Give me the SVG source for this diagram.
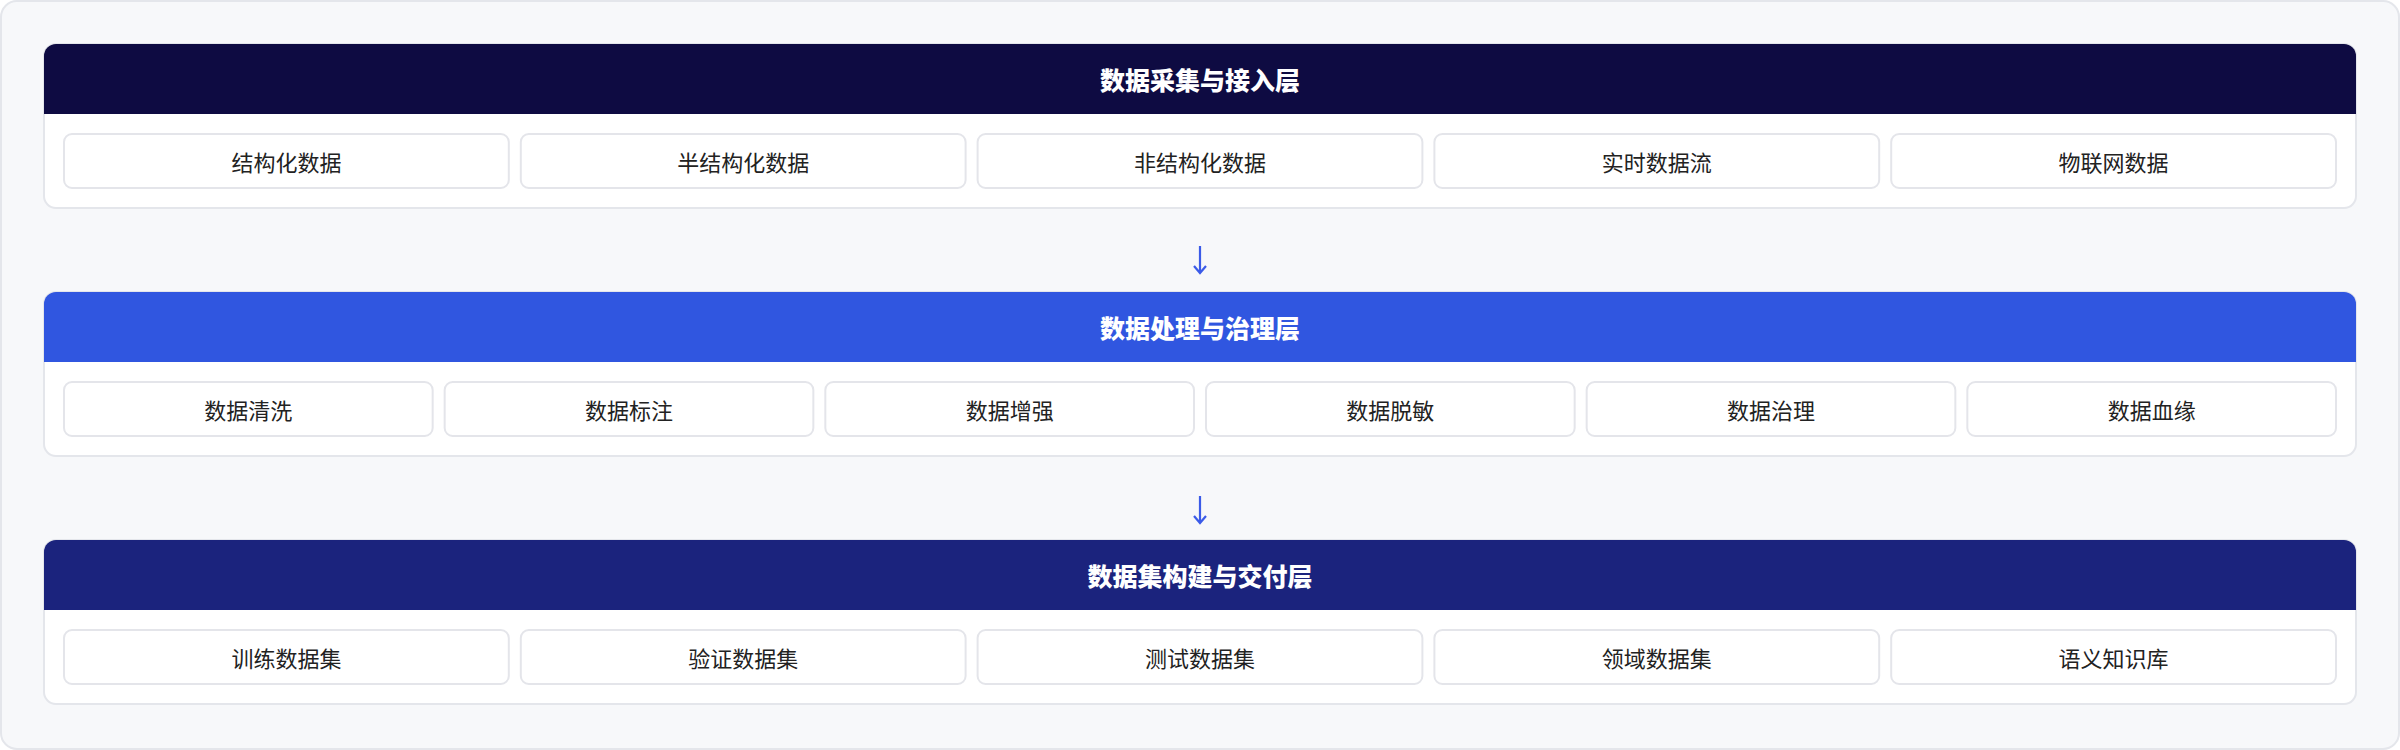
<svg xmlns="http://www.w3.org/2000/svg" width="2400" height="750" viewBox="0 0 2400 750">
  <defs>
    <style>
      .frame { fill: #f7f8fa; stroke: #e4e6eb; stroke-width: 2; }
      .card { fill: #ffffff; stroke: #e4e6eb; stroke-width: 2; }
      .item { fill: #ffffff; stroke: #e4e5ea; stroke-width: 2; }
      .title { font-family: "Noto Sans CJK SC", "Noto Sans", sans-serif; font-size: 25px; font-weight: 900; fill: #ffffff; text-anchor: middle; dominant-baseline: central; }
      .label { font-family: "Noto Sans CJK SC", "Noto Sans", sans-serif; font-size: 22px; font-weight: 400; fill: #222222; text-anchor: middle; dominant-baseline: central; }
      .arrow { stroke: #3b5be8; stroke-width: 2.2; fill: none; }
    </style>
  </defs>

  <rect class="frame" x="1" y="1" width="2398" height="748" rx="16" ry="16"/>

  <g id="layer-ingest">
    <rect class="card" x="44" y="44" width="2312" height="164" rx="12" ry="12"/>
    <path d="M44,114 V56 A12,12 0 0 1 56,44 H2344 A12,12 0 0 1 2356,56 V114 Z" fill="#0e0b42"/>
    <text class="title" x="1200" y="79">数据采集与接入层</text>
    <g id="ingest-structured"><rect class="item" x="64" y="134" width="444.8" height="54" rx="8"/><text class="label" x="286.4" y="161">结构化数据</text></g>
    <g id="ingest-semi"><rect class="item" x="520.8" y="134" width="444.8" height="54" rx="8"/><text class="label" x="743.2" y="161">半结构化数据</text></g>
    <g id="ingest-unstructured"><rect class="item" x="977.6" y="134" width="444.8" height="54" rx="8"/><text class="label" x="1200" y="161">非结构化数据</text></g>
    <g id="ingest-stream"><rect class="item" x="1434.4" y="134" width="444.8" height="54" rx="8"/><text class="label" x="1656.8" y="161">实时数据流</text></g>
    <g id="ingest-iot"><rect class="item" x="1891.2" y="134" width="444.8" height="54" rx="8"/><text class="label" x="2113.6" y="161">物联网数据</text></g>
  </g>

  <g id="layer-process">
    <rect class="card" x="44" y="292" width="2312" height="164" rx="12" ry="12"/>
    <path d="M44,362 V304 A12,12 0 0 1 56,292 H2344 A12,12 0 0 1 2356,304 V362 Z" fill="#3056e0"/>
    <text class="title" x="1200" y="327">数据处理与治理层</text>
    <g id="proc-clean"><rect class="item" x="64" y="382" width="368.67" height="54" rx="8"/><text class="label" x="248.33" y="409">数据清洗</text></g>
    <g id="proc-label"><rect class="item" x="444.67" y="382" width="368.67" height="54" rx="8"/><text class="label" x="629" y="409">数据标注</text></g>
    <g id="proc-augment"><rect class="item" x="825.33" y="382" width="368.67" height="54" rx="8"/><text class="label" x="1009.67" y="409">数据增强</text></g>
    <g id="proc-mask"><rect class="item" x="1206" y="382" width="368.67" height="54" rx="8"/><text class="label" x="1390.33" y="409">数据脱敏</text></g>
    <g id="proc-govern"><rect class="item" x="1586.67" y="382" width="368.67" height="54" rx="8"/><text class="label" x="1771" y="409">数据治理</text></g>
    <g id="proc-lineage"><rect class="item" x="1967.33" y="382" width="368.67" height="54" rx="8"/><text class="label" x="2151.67" y="409">数据血缘</text></g>
  </g>

  <g id="layer-deliver">
    <rect class="card" x="44" y="540" width="2312" height="164" rx="12" ry="12"/>
    <path d="M44,610 V552 A12,12 0 0 1 56,540 H2344 A12,12 0 0 1 2356,552 V610 Z" fill="#1b237d"/>
    <text class="title" x="1200" y="575">数据集构建与交付层</text>
    <g id="set-train"><rect class="item" x="64" y="630" width="444.8" height="54" rx="8"/><text class="label" x="286.4" y="657">训练数据集</text></g>
    <g id="set-valid"><rect class="item" x="520.8" y="630" width="444.8" height="54" rx="8"/><text class="label" x="743.2" y="657">验证数据集</text></g>
    <g id="set-test"><rect class="item" x="977.6" y="630" width="444.8" height="54" rx="8"/><text class="label" x="1200" y="657">测试数据集</text></g>
    <g id="set-domain"><rect class="item" x="1434.4" y="630" width="444.8" height="54" rx="8"/><text class="label" x="1656.8" y="657">领域数据集</text></g>
    <g id="set-kb"><rect class="item" x="1891.2" y="630" width="444.8" height="54" rx="8"/><text class="label" x="2113.6" y="657">语义知识库</text></g>
  </g>

  <g id="connectors">
    <path class="arrow" d="M1200,246 V272.5 M1194,266 L1200,273 L1206,266"/>
    <path class="arrow" d="M1200,496 V522.5 M1194,516 L1200,523 L1206,516"/>
  </g>
</svg>
